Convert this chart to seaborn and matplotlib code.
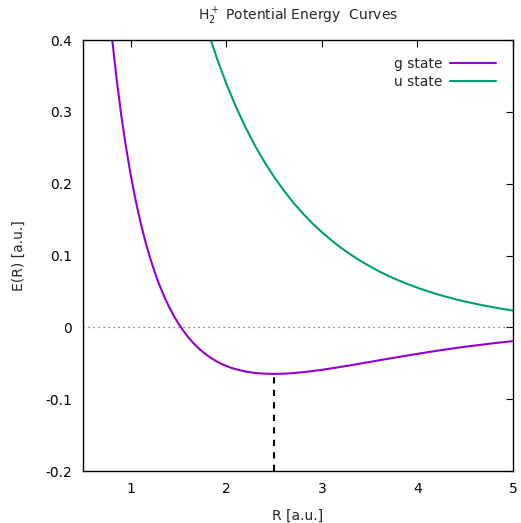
import pandas as pd
import matplotlib
matplotlib.use("Agg")
import matplotlib.pyplot as plt
import seaborn as sns

# Curvas de energia potencial del ion H2+
r_g = [0.75, 0.8, 0.85, 0.9, 0.95, 1.0, 1.05, 1.1, 1.15, 1.2, 1.25, 1.3,
       1.35, 1.4, 1.45, 1.5, 1.55, 1.6, 1.65, 1.7, 1.75, 1.8, 1.85, 1.9,
       1.95, 2.0, 2.05, 2.1, 2.2, 2.3, 2.4, 2.5, 2.6, 2.7, 2.8, 2.9, 3.0,
       3.1, 3.2, 3.3, 3.4, 3.5, 3.6, 3.7, 3.8, 3.9, 4.0, 4.1, 4.2, 4.3,
       4.4, 4.5, 4.6, 4.7, 4.8, 4.9, 5.0]
e_g = [0.4774, 0.4076, 0.3476, 0.2958, 0.2508, 0.2116, 0.1774, 0.1473,
       0.1209, 0.0976, 0.0770, 0.0589, 0.0429, 0.0287, 0.0161, 0.0050,
       -0.0048, -0.0135, -0.0212, -0.0279, -0.0338, -0.0390, -0.0435,
       -0.0475, -0.0509, -0.0538, -0.0563, -0.0583, -0.0615, -0.0635,
       -0.0645, -0.0648, -0.0645, -0.0637, -0.0624, -0.0609, -0.0591,
       -0.0571, -0.0550, -0.0528, -0.0505, -0.0482, -0.0459, -0.0436,
       -0.0413, -0.0391, -0.0369, -0.0348, -0.0327, -0.0307, -0.0288,
       -0.0270, -0.0253, -0.0237, -0.0221, -0.0206, -0.0192]

r_u = [1.7, 1.8, 1.9, 2.0, 2.1, 2.2, 2.3, 2.4, 2.5, 2.6, 2.7, 2.8, 2.9,
       3.0, 3.1, 3.2, 3.3, 3.4, 3.5, 3.6, 3.7, 3.8, 3.9, 4.0, 4.1, 4.2,
       4.3, 4.4, 4.5, 4.6, 4.7, 4.8, 4.9, 5.0]
e_u = [0.4613, 0.4155, 0.3751, 0.3391, 0.3072, 0.2786, 0.2530, 0.2300,
       0.2094, 0.1908, 0.1739, 0.1587, 0.1449, 0.1325, 0.1211, 0.1108,
       0.1014, 0.0928, 0.0851, 0.0779, 0.0714, 0.0655, 0.0601, 0.0551,
       0.0506, 0.0464, 0.0426, 0.0391, 0.0359, 0.0330, 0.0303, 0.0278,
       0.0255, 0.0234]

r_min = 2.5
e_min = -0.0648

df = pd.concat([
    pd.DataFrame({"R": r_g, "E": e_g, "estado": "g state"}),
    pd.DataFrame({"R": r_u, "E": e_u, "estado": "u state"}),
])

sns.set_theme(style="white")
plt.rcParams["font.family"] = ["DejaVu Sans"]

fig = plt.figure(figsize=(5.21, 5.23), dpi=100)
ax = fig.add_axes([0.1593, 0.0994, 0.8253, 0.8241])

ax.axhline(0, color="#606060", lw=0.9, ls=(0, (1, 3)))
ax.plot([r_min, r_min], [-0.2, e_min], color="black", lw=1.5, ls=(0, (3, 3)))

sns.lineplot(data=df, x="R", y="E", hue="estado", estimator=None, sort=True,
             palette={"g state": "#9400D3", "u state": "#009E73"},
             lw=1.5, ax=ax)

ax.set_xlim(0.5, 5)
ax.set_ylim(-0.2, 0.4)
ax.set_xticks([1, 2, 3, 4, 5])
ax.set_yticks([-0.2, -0.1, 0, 0.1, 0.2, 0.3, 0.4])
ax.set_yticklabels(["-0.2", "-0.1", "0", "0.1", "0.2", "0.3", "0.4"])
ax.tick_params(direction="in", length=5, width=0.8, top=True, right=True,
               labelsize=10, colors="black", pad=8)
for s in ax.spines.values():
    s.set_color("black")
    s.set_linewidth(1.0)

ax.set_xlabel("R [a.u.]", fontsize=10, labelpad=9)
ax.set_ylabel("E(R) [a.u.]", fontsize=10, labelpad=14)
ax.set_title("H$_2^+$ Potential Energy  Curves", fontsize=10, pad=14)

ax.legend(loc="upper right", frameon=False, markerfirst=False, fontsize=10,
          handlelength=3.3, handletextpad=0.6, borderaxespad=0.8,
          labelspacing=0.3)

fig.savefig("out.png", dpi=100)
